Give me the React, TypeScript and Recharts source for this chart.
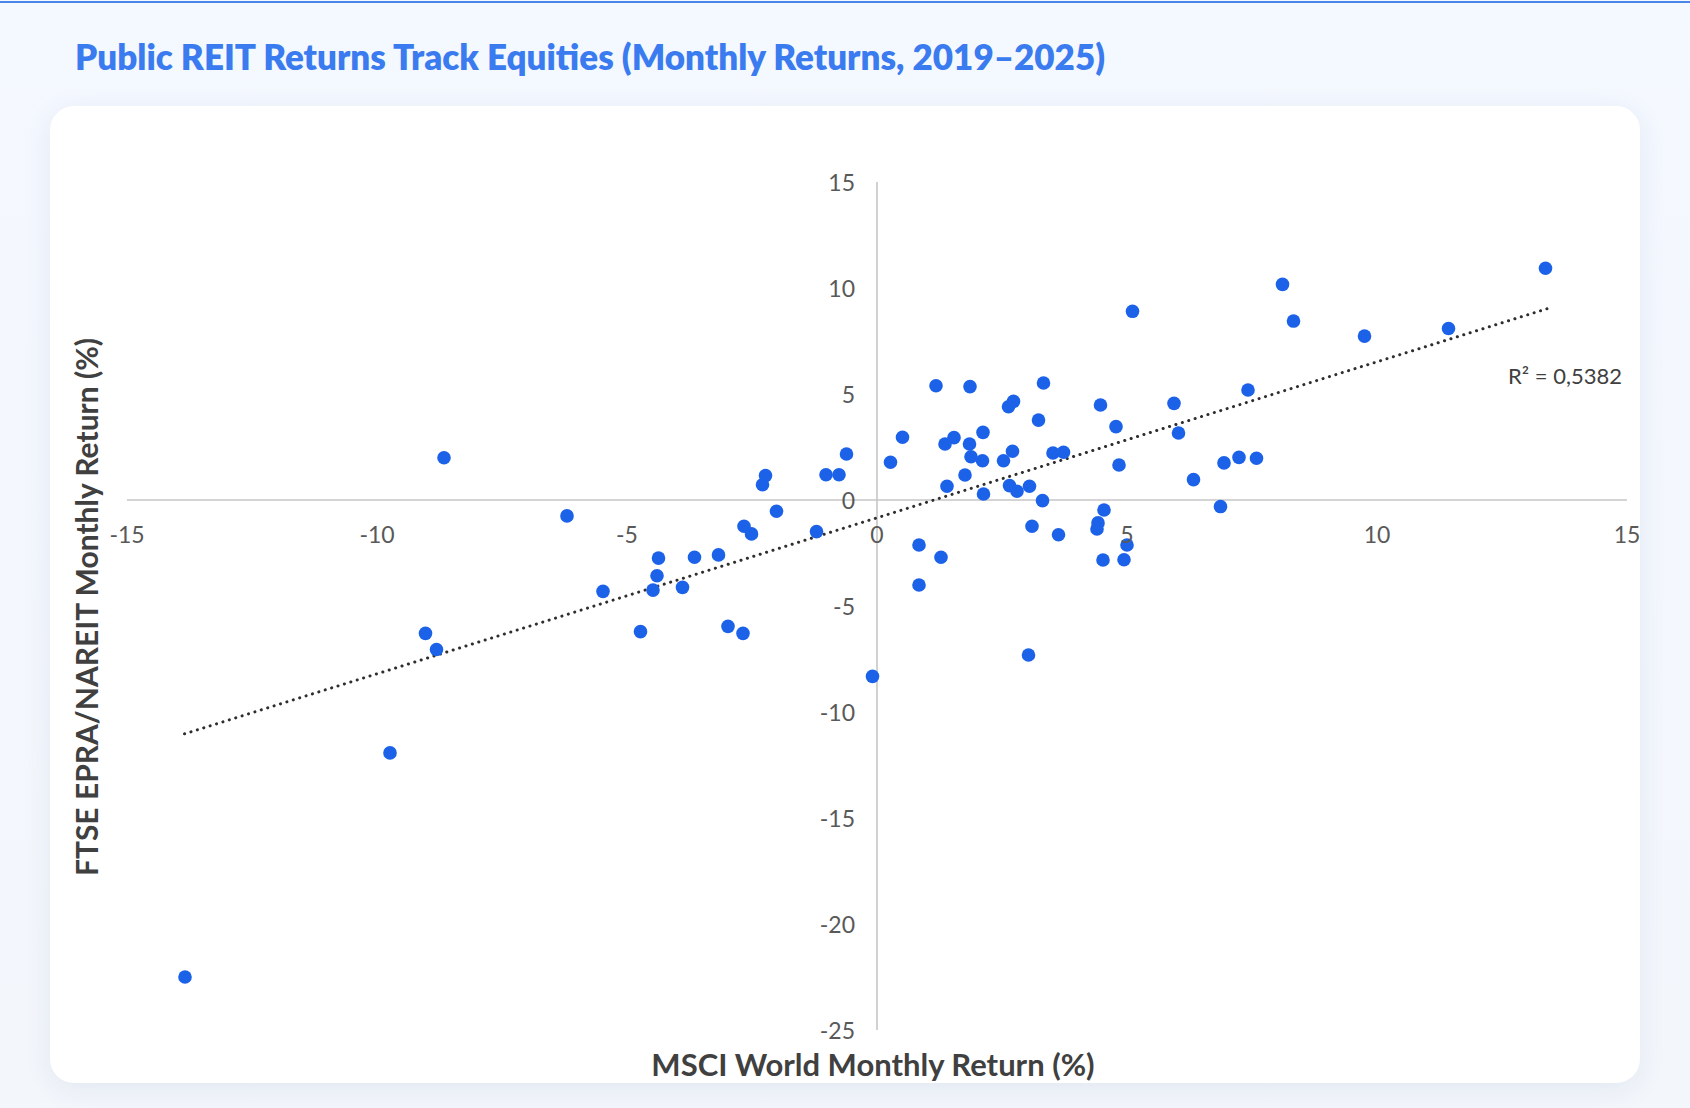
import React from 'react';
import {
  ScatterChart,
  Scatter,
  XAxis,
  YAxis,
  ReferenceLine,
} from 'recharts';

// MSCI World monthly return (%) and FTSE EPRA/NAREIT monthly return (%), same order
const msciReturns = [
  1.18, 1.86, 3.33, 2.73, 2.63, 3.23, 4.47, 4.78, 5.94, 6.03,
  0.51, 0.27, 1.36, 1.54, 2.12, 1.85, 1.88, 2.11, 2.53, 2.71,
  3.52, 3.73, 4.84, 1.76, 1.4, 2.13, 2.65, 2.8, 3.05, 3.31,
  4.54, 4.42, 4.4, 3.1, 3.63, 0.84, 1.28, 0.84, 3.03, 5.0,
  4.52, 4.94, -0.61, -1.02, -0.76, -2.23, -2.29, -2.01, -2.66, -2.51,
  -1.21, -4.37, -3.65, -3.17, -4.4, -4.48, -3.89, -5.48, -4.73, -2.98,
  -2.68, -13.84, -9.74, -9.03, -8.81, -8.66, -6.2, -0.09, 5.11, 8.11,
  8.33, 9.75, 11.43, 13.37, 7.42, 6.33, 6.87, 6.94, 7.24, 7.59,
];
const reitReturns = [
  5.39, 5.35, 5.52, 4.65, 4.4, 3.77, 4.48, 3.46, 4.56, 3.16,
  2.96, 1.78, 2.64, 2.94, 3.19, 2.64, 2.04, 1.85, 1.85, 2.3,
  2.22, 2.25, 1.65, 1.18, 0.65, 0.28, 0.68, 0.41, 0.65, -0.03,
  -0.47, -1.08, -1.37, -1.24, -1.64, -2.12, -2.7, -4.01, -7.31, -2.12,
  -2.83, -2.82, 2.17, 1.19, 1.19, 1.15, 0.72, -0.53, -1.24, -1.6,
  -1.49, -2.74, -2.7, -2.59, -3.57, -4.25, -4.12, -4.31, -6.21, -5.96,
  -6.29, -22.5, -11.93, -6.29, -7.05, 1.99, -0.75, -8.32, 8.9, 10.17,
  8.44, 7.73, 8.09, 10.93, 5.19, 0.96, -0.31, 1.75, 2.01, 1.97,
];

// linear trend line end points
const trendLine = [
  { x: -13.85, y: -11.03 },
  { x: 13.4, y: 9.02 },
];
const rSquaredLabel = 'R² = 0,5382';

const xTicks = [-15, -10, -5, 0, 5, 10, 15];
const yTicks = [-25, -20, -15, -10, -5, 0, 5, 10, 15];

const points = msciReturns.map((x, i) => ({ x, y: reitReturns[i] }));

const W = 1690;
const H = 1108;
// axes are 1px thick so they still render; margins leave the plot at 127..1627 x 182..1030
const M = { top: 182, right: 63, bottom: 77, left: 126 };
const PLOT_LEFT = M.left + 1;
const PLOT_W = W - PLOT_LEFT - M.right;
const PLOT_H = H - M.top - M.bottom - 1;
const ZERO_X = PLOT_LEFT + (PLOT_W * 15) / 30;
const ZERO_Y = M.top + (PLOT_H * 15) / 40;

const FONT = 'Lato, "Open Sans", sans-serif';
const DOT = '#1c62e9';

const XTick = ({ x, payload }: any) => (
  <text
    x={x}
    y={ZERO_Y + 34}
    textAnchor="middle"
    dominantBaseline="central"
    fontFamily={FONT}
    fontSize={23}
    fill="#595959"
  >
    {payload.value}
  </text>
);

const YTick = ({ y, payload }: any) => (
  <text
    x={ZERO_X - 22}
    y={y}
    textAnchor="end"
    dominantBaseline="central"
    fontFamily={FONT}
    fontSize={23}
    fill="#595959"
  >
    {payload.value}
  </text>
);

const Dot = ({ cx, cy }: any) => <circle cx={cx} cy={cy} r={6.8} fill={DOT} />;

export default function App() {
  return (
    <div
      style={{
        position: 'absolute',
        left: 0,
        top: 0,
        width: W,
        height: H,
        background: 'linear-gradient(#f4f8ff, #f3f6fb)',
        overflow: 'hidden',
        fontFamily: FONT,
      }}
    >
      <div style={{ position: 'absolute', left: 0, top: 1, width: W, height: 2, background: '#4a86ea' }} />
      <div
        style={{
          position: 'absolute',
          left: 75,
          top: 34,
          fontSize: 35,
          fontWeight: 800,
          color: '#3a7bef',
          lineHeight: '44px',
          whiteSpace: 'nowrap',
        }}
      >
        Public REIT Returns Track Equities (Monthly Returns, 2019–2025)
      </div>
      <div
        style={{
          position: 'absolute',
          left: 50,
          top: 106,
          width: 1590,
          height: 977,
          background: '#ffffff',
          borderRadius: 24,
          boxShadow: '0 6px 28px rgba(40,70,130,0.08)',
        }}
      />
      <div style={{ position: 'absolute', left: 0, top: 0 }}>
        <ScatterChart width={W} height={H} margin={M}>
          <XAxis
            type="number"
            dataKey="x"
            domain={[-15, 15]}
            ticks={xTicks}
            interval={0}
            height={1}
            axisLine={false}
            tickLine={false}
            tick={<XTick />}
          />
          <YAxis
            type="number"
            dataKey="y"
            domain={[-25, 15]}
            ticks={yTicks}
            interval={0}
            width={1}
            axisLine={false}
            tickLine={false}
            tick={<YTick />}
          />
          <ReferenceLine y={0} stroke="#c6c6c6" strokeWidth={1.6} />
          <ReferenceLine x={0} stroke="#c6c6c6" strokeWidth={1.6} />
          <ReferenceLine
            segment={trendLine}
            stroke="#2e2e2e"
            strokeWidth={3}
            strokeDasharray="0.1 6.6"
            strokeLinecap="round"
          />
          <Scatter data={points} shape={<Dot />} isAnimationActive={false} />
        </ScatterChart>
      </div>
      <div
        style={{
          position: 'absolute',
          right: W - 1622,
          top: 362,
          fontSize: 22,
          color: '#404040',
          lineHeight: '28px',
          whiteSpace: 'nowrap',
        }}
      >
        {rSquaredLabel}
      </div>
      <div
        style={{
          position: 'absolute',
          left: 473,
          width: 800,
          top: 1049,
          textAlign: 'center',
          fontSize: 31,
          fontWeight: 700,
          color: '#404040',
          lineHeight: '30px',
        }}
      >
        MSCI World Monthly Return (%)
      </div>
      <div
        style={{
          position: 'absolute',
          left: 86 - 400,
          width: 800,
          top: 607 - 19,
          textAlign: 'center',
          fontSize: 30,
          fontWeight: 700,
          color: '#404040',
          lineHeight: '38px',
          transform: 'rotate(-90deg)',
          transformOrigin: '50% 50%',
        }}
      >
        FTSE EPRA/NAREIT Monthly Return (%)
      </div>
    </div>
  );
}
